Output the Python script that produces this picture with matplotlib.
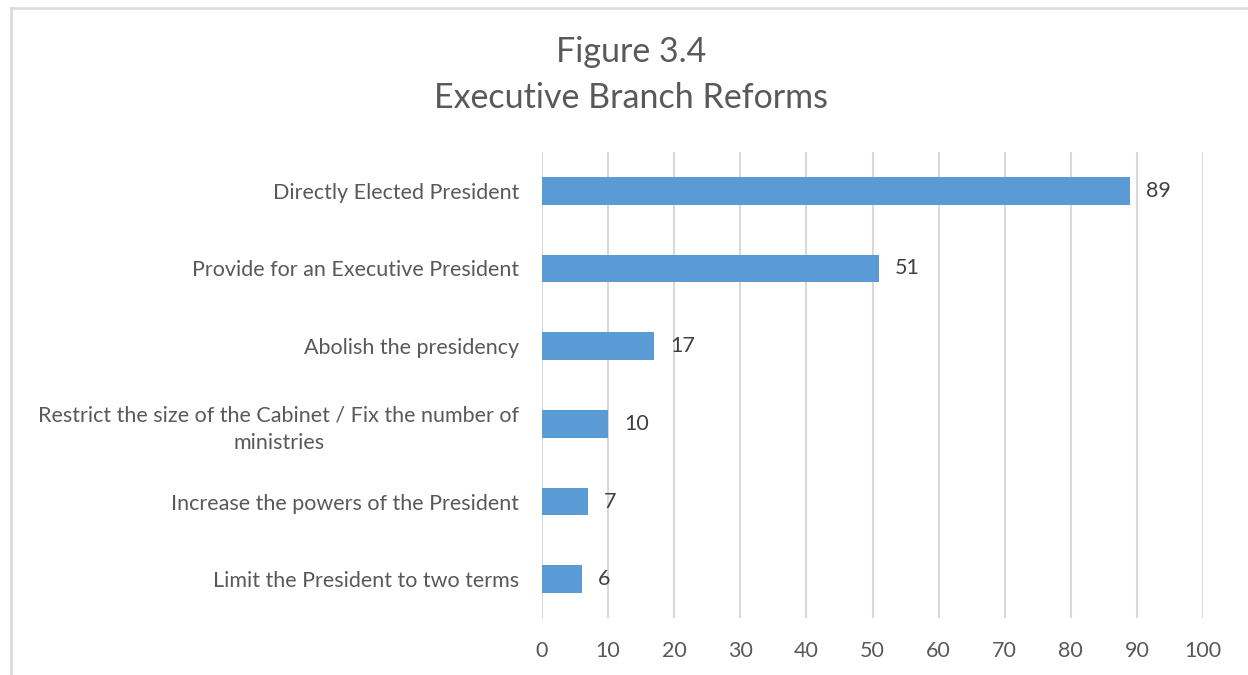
import matplotlib.pyplot as plt
from matplotlib.lines import Line2D

categories = ["Directly Elected President",
              "Provide for an Executive President",
              "Abolish the presidency",
              "Restrict the size of the Cabinet / Fix the number of\nministries",
              "Increase the powers of the President",
              "Limit the President to two terms"]
values = [89, 51, 17, 10, 7, 6]
xticks = [0, 10, 20, 30, 40, 50, 60, 70, 80, 90, 100]

plt.rcParams['font.family'] = ['Lato', 'DejaVu Sans']
txt = '#595959'

fig = plt.figure(figsize=(12.48, 6.75), dpi=100)
ax = fig.add_axes([542/1248, 1 - 618/675, (1203 - 542)/1248, (618 - 152)/675])

ypos = list(range(len(categories)))
ax.barh(ypos, values, height=0.36, color='#5B9BD5', zorder=3)
for y, v in zip(ypos, values):
    ax.annotate(str(v), (v, y), xytext=(11.5, 0), textcoords='offset points',
                va='center', ha='left', fontsize=15.5, color='#404040')

ax.set_xlim(0, 100)
ax.set_ylim(len(categories) - 0.5, -0.5)
ax.set_xticks(xticks)
ax.set_yticks(ypos)
ax.set_yticklabels(categories, multialignment='center', linespacing=1.45)
ax.tick_params(axis='x', length=0, pad=16.5, labelsize=15.5, labelcolor=txt)
ax.tick_params(axis='y', length=0, pad=16.5, labelsize=15.5, labelcolor=txt)
ax.grid(axis='x', color='#d9d9d9', lw=1.5, zorder=0)
for s in ax.spines.values():
    s.set_visible(False)

fig.text(0.506, 1 - 52/675, "Figure 3.4", ha='center', va='center', fontsize=24.5, color=txt)
fig.text(0.506, 1 - 98/675, "Executive Branch Reforms", ha='center', va='center', fontsize=24.5, color=txt)

# chart frame (only left and top edges visible in the crop)
fig.add_artist(Line2D([11/1248, 11/1248], [0, 1 - 8/675], color='#d9d9d9', lw=1.8))
fig.add_artist(Line2D([11/1248, 1], [1 - 8/675, 1 - 8/675], color='#d9d9d9', lw=1.8))

fig.savefig('out.png', dpi=100, facecolor='white')
